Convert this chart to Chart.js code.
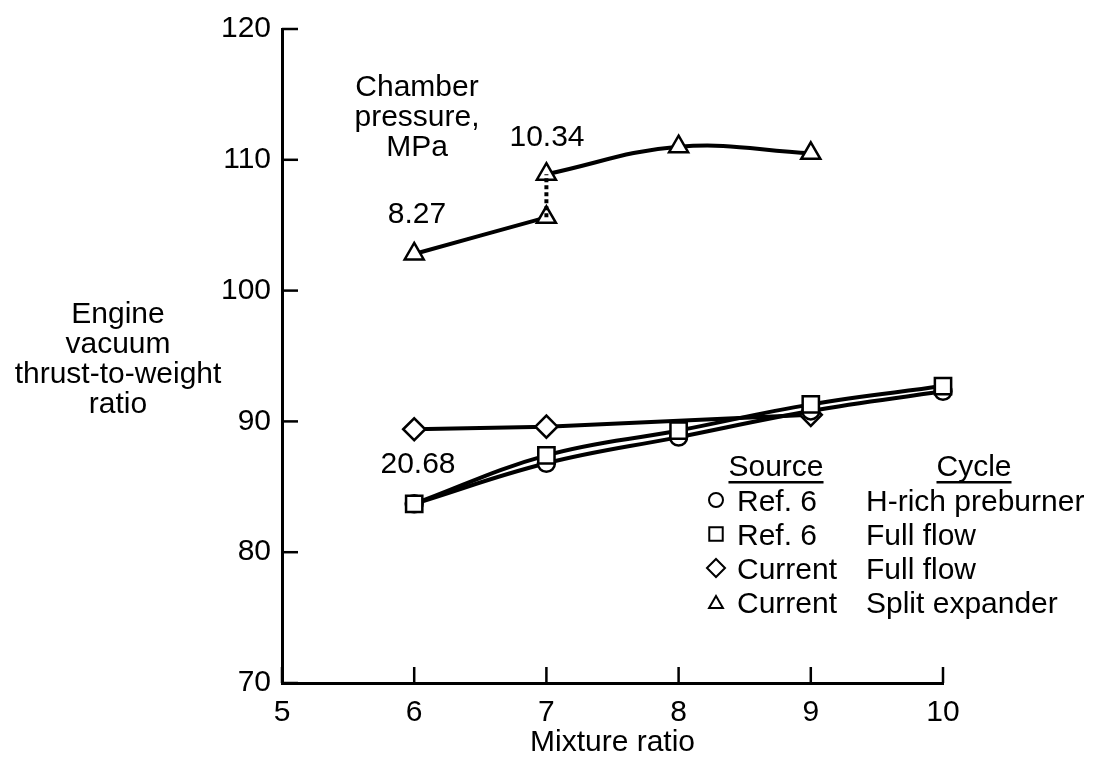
<!DOCTYPE html>
<html>
<head>
<meta charset="utf-8">
<script src="https://cdn.jsdelivr.net/npm/chart.js@4"></script>
<style>
html, body { margin: 0; padding: 0; background: #fff; }
</style>
</head>
<body>
<canvas id="c" width="1115" height="760"></canvas>
<script>
// values
const mixRatio = [6, 7, 8, 9, 10];
const hRichRef6 = [83.7, 86.8, 88.8, 90.8, 92.3];
const fullFlowRef6 = [83.7, 87.4, 89.3, 91.3, 92.7];
const currentFullX = [6, 7, 9];
const currentFull = [89.4, 89.6, 90.5];
const splitLowX = [6, 7];
const splitLow = [102.8, 105.6];
const splitHighX = [7, 8, 9];
const splitHigh = [108.9, 111.0, 110.5];
const xTicks = [5, 6, 7, 8, 9, 10];
const yTicks = [70, 80, 90, 100, 110, 120];

const FONT = '"Liberation Sans", Arial, sans-serif';
const FS = 30;

const pts = (xs, ys) => xs.map((x, i) => ({ x, y: ys[i] }));

function series(data, style, radius, tension) {
    return {
        data,
        borderColor: "#000",
        borderWidth: 4,
        pointStyle: style,
        pointRadius: radius,
        pointBorderWidth: 2.5,
        pointBackgroundColor: "#fff",
        pointBorderColor: "#000",
        tension,
        clip: false
    };
}

// inward tick marks and all the loose text
const decor = {
    id: "decor",
    afterDraw(chart) {
        const ctx = chart.ctx;
        const xs = chart.scales.x, ys = chart.scales.y;
        ctx.save();
        ctx.strokeStyle = "#000";
        ctx.lineWidth = 2.5;
        yTicks.forEach(v => {
            const y = ys.getPixelForValue(v);
            ctx.beginPath();
            ctx.moveTo(xs.left, y);
            ctx.lineTo(xs.left + 16, y);
            ctx.stroke();
        });
        xTicks.forEach(v => {
            const x = xs.getPixelForValue(v);
            ctx.beginPath();
            ctx.moveTo(x, ys.bottom);
            ctx.lineTo(x, ys.bottom - 16);
            ctx.stroke();
        });

        ctx.fillStyle = "#000";
        ctx.font = FS + "px " + FONT;
        ctx.textAlign = "center";
        ctx.textBaseline = "alphabetic";

        // y title
        ["Engine", "vacuum", "thrust-to-weight", "ratio"].forEach((t, i) => {
            ctx.fillText(t, 118, 323 + i * 30);
        });
        // x title
        ctx.fillText("Mixture ratio", xs.getPixelForValue(7.5), 751);

        // chamber pressure notes
        ["Chamber", "pressure,", "MPa"].forEach((t, i) => {
            ctx.fillText(t, 417, 96 + i * 30);
        });
        ctx.fillText("8.27", 417, 223);
        ctx.fillText("10.34", 547, 146);
        ctx.fillText("20.68", 418, 473);

        // legend
        const head = [["Source", 776], ["Cycle", 974]];
        head.forEach(([t, x]) => {
            ctx.fillText(t, x, 476);
            const w = ctx.measureText(t).width;
            ctx.fillRect(x - w / 2, 481, w, 2.5);
        });
        const rows = [
            ["circle", 7, "Ref. 6", "H-rich preburner"],
            ["rect", 9.5, "Ref. 6", "Full flow"],
            ["rectRot", 9, "Current", "Full flow"],
            ["triangle", 8, "Current", "Split expander"]
        ];
        ctx.textAlign = "left";
        rows.forEach(([style, r, src, cyc], i) => {
            const y = 500 + i * 34;
            ctx.lineWidth = 2;
            ctx.fillStyle = "#fff";
            ctx.strokeStyle = "#000";
            Chart.helpers.drawPoint(ctx, { pointStyle: style, radius: r, borderWidth: 2 }, 716, y + (style === "triangle" ? 2 : 0));
            ctx.fillStyle = "#000";
            ctx.fillText(src, 737, y + 11);
            ctx.fillText(cyc, 866, y + 11);
        });
        ctx.restore();
    }
};

const chart = new Chart(document.getElementById("c"), {
    type: "line",
    data: {
        datasets: [
            series(pts(mixRatio, fullFlowRef6), "rect", 11.5, 0.4),
            series(pts(mixRatio, hRichRef6), "circle", 8.5, 0.4),
            series(pts(currentFullX, currentFull), "rectRot", 11, 0),
            {
                data: pts([7, 7], [splitLow[1], splitHigh[0]]),
                borderColor: "#000",
                borderWidth: 4,
                borderDash: [4, 3],
                pointRadius: 0,
                clip: false
            },
            series(pts(splitLowX, splitLow), "triangle", 11, 0.4),
            series(pts(splitHighX, splitHigh), "triangle", 11, 0.4)
        ]
    },
    options: {
        responsive: false,
        animation: false,
        layout: { padding: { left: 0, top: 23, right: 172, bottom: 0 } },
        plugins: { legend: { display: false }, tooltip: { enabled: false } },
        scales: {
            x: {
                type: "linear",
                min: 5,
                max: 10,
                afterFit: s => { s.height = 77; },
                afterBuildTicks: s => { s.ticks = xTicks.map(v => ({ value: v })); },
                border: { display: true, color: "#000", width: 3 },
                grid: { display: false, drawTicks: false },
                ticks: { color: "#000", font: { family: FONT, size: FS }, padding: 12 }
            },
            y: {
                type: "linear",
                min: 70,
                max: 120,
                afterFit: s => { s.width = 282; },
                afterBuildTicks: s => { s.ticks = yTicks.map(v => ({ value: v })); },
                border: { display: true, color: "#000", width: 3 },
                grid: { display: false, drawTicks: false },
                ticks: { color: "#000", font: { family: FONT, size: FS }, padding: 11 }
            }
        }
    },
    plugins: [decor]
});
</script>
</body>
</html>
